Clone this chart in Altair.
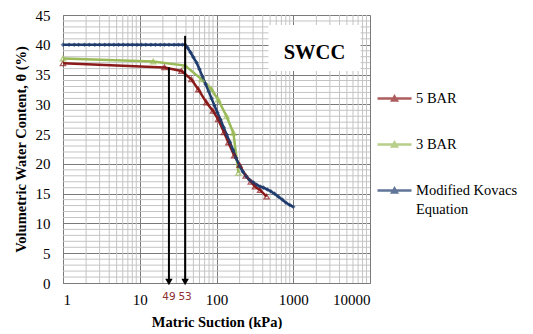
import altair as alt
import pandas as pd

# ---------------- data ----------------
series = ["5 BAR", "3 BAR", "Modified Kovacs\nEquation"]
colors = ["#8b1a1a", "#9bbb59", "#1f3c6e"]

bar5_x = [1, 21, 35, 47, 58, 74, 90, 105, 125, 143, 170, 200, 240, 280, 318, 370, 450]
bar5_y = [36.9, 36.2, 35.6, 34.2, 32.5, 30.3, 28.9, 27.5, 25.3, 23.6, 21.4, 19.8, 18.0, 17.0, 16.2, 15.6, 14.5]

bar3_x = [1, 15, 39, 64, 85, 105, 135, 166, 193]
bar3_y = [37.7, 37.2, 36.5, 34.2, 32.6, 30.8, 28.0, 25.2, 18.5]

kov_x = [1, 1.2, 1.4, 1.6, 1.9, 2.2, 2.6, 3, 3.5, 4, 4.6, 5.3, 6.1, 7, 8, 9.2,
         10.5, 12, 14, 16, 18.5, 21, 24, 28, 32, 36, 39, 42, 46, 50, 55, 60,
         66, 72, 79, 86, 94, 103, 113, 124, 136, 150, 165, 180, 200, 220, 245,
         270, 300, 335, 370, 410, 460, 510, 570, 640, 720, 800, 900, 1000]
kov_y = [40, 40, 40, 40, 40, 40, 40, 40, 40, 40, 40, 40, 40, 40, 40, 40,
         40, 40, 40, 40, 40, 40, 40, 40, 40, 40, 40, 39.5, 38.7, 37.9, 37.0, 35.9,
         34.6, 33.4, 32.2, 31.0, 29.8, 28.6, 27.4, 26.1, 24.9, 23.6, 22.3, 21.0, 19.6, 18.7, 17.9,
         17.3, 16.9, 16.5, 16.2, 16.0, 15.7, 15.4, 15.0, 14.5, 14.0, 13.5, 13.1, 12.8]

arrow_x = [24, 39]
arrow_top = [36.2, 41.5]
arrow_labels = ["49", "53"]

x_major = [1, 10, 100, 1000, 10000]
x_minor = [2, 3, 4, 5, 6, 7, 8, 9, 20, 30, 40, 50, 60, 70, 80, 90,
           200, 300, 400, 500, 600, 700, 800, 900, 2000, 3000, 4000, 5000, 6000, 7000, 8000, 9000]
y_major = [0, 5, 10, 15, 20, 25, 30, 35, 40, 45]
y_minor = [1, 2, 3, 4, 6, 7, 8, 9, 11, 12, 13, 14, 16, 17, 18, 19, 21, 22, 23, 24,
           26, 27, 28, 29, 31, 32, 33, 34, 36, 37, 38, 39, 41, 42, 43, 44]

# ---------------- tables ----------------
rows = []
for name, xs, ys in zip(series, [bar5_x, bar3_x, kov_x], [bar5_y, bar3_y, kov_y]):
    for xv, yv in zip(xs, ys):
        rows.append({"series": name, "x": xv, "y": yv})
df = pd.DataFrame(rows)
arrows = pd.DataFrame({"x": arrow_x, "y": arrow_top, "label": arrow_labels})
arrows["base"] = 0
box = pd.DataFrame({"x": [475], "x2": [7540], "y": [35.6], "y2": [43.3]})
box_label = pd.DataFrame({"x": [1890], "y": [38.6], "t": ["SWCC"]})
xminor_df = pd.DataFrame({"x": x_minor})
yminor_df = pd.DataFrame({"y": y_minor})

serif = "Liberation Serif"

xscale = alt.Scale(type="log", domain=[1, 10000], nice=False)
yscale = alt.Scale(domain=[0, 45], nice=False)

x_axis = alt.Axis(
    values=x_major, format="d", grid=True, gridColor="#7a7a7a", ticks=False,
    labelFont=serif, labelFontSize=15, labelColor="black", labelPadding=9,
    domainColor="#7a7a7a",
    title="Matric Suction (kPa)", titleFont=serif, titleFontSize=14.5, titleFontWeight="bold",
    titleColor="black", titlePadding=8,
)
y_axis = alt.Axis(
    values=y_major, grid=True, gridColor="#7a7a7a", ticks=False,
    labelFont=serif, labelFontSize=15, labelColor="black", labelPadding=13,
    domainColor="#7a7a7a",
    title="Volumetric Water Content, θ (%)", titleFont=serif, titleFontSize=14.5,
    titleFontWeight="bold", titleColor="black", titlePadding=7,
)
X = alt.X("x:Q", scale=xscale, axis=x_axis)
Y = alt.Y("y:Q", scale=yscale, axis=y_axis)

legend = alt.Legend(
    orient="none", legendX=313, legendY=65, title=None,
    symbolType="M-1,0H1M-0.14,0.12L0,-0.12L0.14,0.12Z",
    symbolSize=1156, symbolStrokeWidth=2.5,
    labelFont=serif, labelFontSize=14.5, labelColor="black",
    labelOffset=3, rowPadding=20, padding=0, labelLimit=200,
)
color_enc = alt.Color("series:N", scale=alt.Scale(domain=series, range=colors), legend=legend)

base = alt.Chart(df)

xminor = alt.Chart(xminor_df).mark_rule(color="#c4c4c4", strokeWidth=1).encode(x=X)
yminor = alt.Chart(yminor_df).mark_rule(color="#c4c4c4", strokeWidth=1).encode(y=Y)

box_rect = alt.Chart(box).mark_rect(fill="white").encode(x=X, x2="x2:Q", y=Y, y2="y2:Q")
box_text = alt.Chart(box_label).mark_text(font=serif, fontSize=20.5, fontWeight="bold", color="black").encode(
    x=X, y=Y, text="t:N"
)

lines = base.mark_line(strokeWidth=2.5).encode(x=X, y=Y, color=color_enc)
pts_open = base.transform_filter(alt.datum.series != series[2]).mark_point(
    filled=False, shape="triangle-up", size=28, strokeWidth=1.3
).encode(x=X, y=Y, color=color_enc)
pts_kov = base.transform_filter(alt.datum.series == series[2]).mark_point(
    filled=True, shape="diamond", size=22
).encode(x=X, y=Y, color=color_enc)

arrow_rule = alt.Chart(arrows).mark_rule(color="black", strokeWidth=2).encode(x=X, y=Y, y2="base:Q")
arrow_head = alt.Chart(arrows).mark_point(shape="triangle-down", filled=True, color="black", size=55, opacity=1, yOffset=-1).encode(
    x=X, y=alt.Y("base:Q", scale=yscale, axis=y_axis),
)
arrow_text = alt.Chart(arrows).mark_text(font="DejaVu Sans", fontSize=10.5, color="#8b2f2f", dy=14).encode(
    x=X, y=alt.Y("base:Q", scale=yscale, axis=y_axis), text="label:N",
)

chart = alt.layer(
    xminor, yminor, box_rect, lines, pts_open, pts_kov, arrow_rule, arrow_head, arrow_text, box_text
).properties(
    width=307, height=268, background="white",
    padding={"left": 5, "top": 0, "right": 5, "bottom": 0},
).configure_view(
    strokeWidth=0
).configure(
    style={"guide-label": {"lineBreak": "\n", "lineHeight": 19}}
)

chart.save("out.html", embed_options={"renderer": "svg", "actions": False})
